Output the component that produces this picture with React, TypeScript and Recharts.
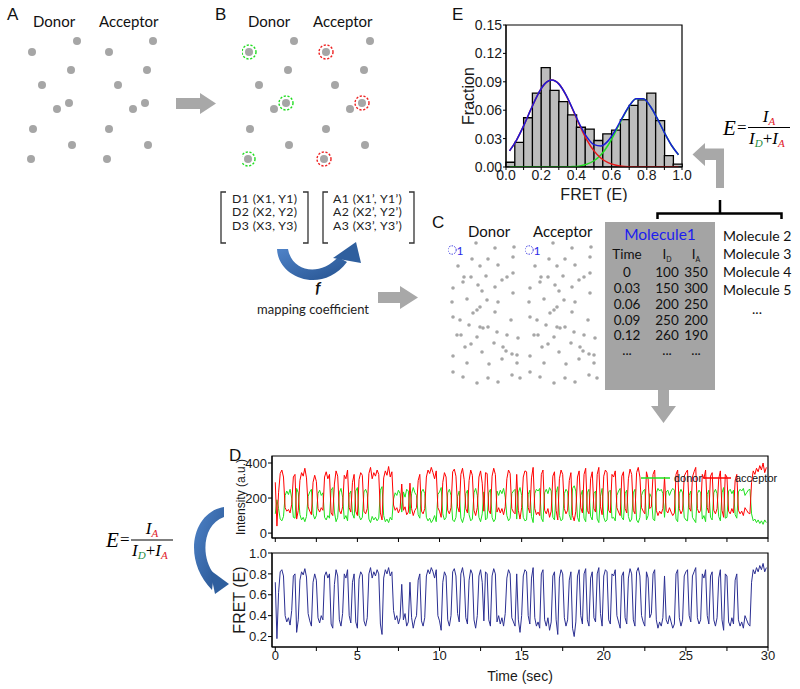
import React from 'react';
import {
  ComposedChart, LineChart, ScatterChart, Bar, Line, Scatter,
  XAxis, YAxis, ReferenceArea, Label,
} from 'recharts';

const AXIS_FONT = '"Liberation Sans", Arial, sans-serif';
const TEXT_FONT = 'Lato, "Open Sans", sans-serif';
const MATH_FONT = '"Liberation Serif", "Times New Roman", serif';
const SPOT = '#a6a6a6';
const ARROW = '#a8a8a8';

// ---- panel E: FRET histogram ----
const binCenters = [0.025, 0.075, 0.125, 0.175, 0.225, 0.275, 0.325, 0.375, 0.425, 0.475,
  0.525, 0.575, 0.625, 0.675, 0.725, 0.775, 0.825, 0.875, 0.925, 0.975];
const fractions = [0.005, 0.026, 0.052, 0.078, 0.105, 0.081, 0.069, 0.055, 0.042, 0.040,
  0.028, 0.035, 0.039, 0.050, 0.065, 0.071, 0.078, 0.049, 0.012, 0.003];
const fitX = [0.02, 0.06, 0.10, 0.14, 0.18, 0.22, 0.26, 0.30, 0.34, 0.38, 0.42, 0.46, 0.50,
  0.54, 0.58, 0.62, 0.66, 0.70, 0.74, 0.78, 0.82, 0.86, 0.90, 0.94, 0.98];
const fitTotal = [0.0170, 0.0285, 0.0434, 0.0603, 0.0763, 0.0878, 0.0920, 0.0878, 0.0764, 0.0607,
  0.0446, 0.0315, 0.0236, 0.0222, 0.0276, 0.0384, 0.0519, 0.0645, 0.0721, 0.0720,
  0.0642, 0.0511, 0.0363, 0.0230, 0.0130];
const fitLow = [0.0170, 0.0285, 0.0434, 0.0603, 0.0763, 0.0878, 0.0920, 0.0878, 0.0763, 0.0603,
  0.0434, 0.0285, 0.0170, 0.0092, 0.0046, 0.0021, 0.0008, 0.0003, 0.0001, 0,
  0, 0, 0, 0, 0];
const fitHigh = [0, 0, 0, 0, 0, 0, 0, 0, 0.0001, 0.0004,
  0.0012, 0.0030, 0.0066, 0.0130, 0.0230, 0.0363, 0.0511, 0.0642, 0.0720, 0.0720,
  0.0642, 0.0511, 0.0363, 0.0230, 0.0130];
const fretTicks = [0, 0.1, 0.2, 0.3, 0.4, 0.5, 0.6, 0.7, 0.8, 0.9, 1.0];
const fractionTicks = [0, 0.03, 0.06, 0.09, 0.12, 0.15];

// ---- panel D: single molecule traces, 0.1 s per frame ----
const TRACE_STEP = 0.1;
const fretTrace = [
  0.72, 0.18, 0.62, 0.82, 0.84, 0.78, 0.40, 0.34, 0.38, 0.31,
  0.45, 0.78, 0.80, 0.24, 0.36, 0.74, 0.82, 0.79, 0.85, 0.77,
  0.42, 0.35, 0.30, 0.72, 0.80, 0.74, 0.38, 0.33, 0.40, 0.36,
  0.78, 0.82, 0.76, 0.80, 0.32, 0.28, 0.70, 0.84, 0.78, 0.36,
  0.30, 0.42, 0.80, 0.76, 0.84, 0.40, 0.33, 0.72, 0.80, 0.34,
  0.28, 0.75, 0.82, 0.79, 0.35, 0.30, 0.38, 0.80, 0.86, 0.76,
  0.82, 0.78, 0.84, 0.80, 0.32, 0.22, 0.76, 0.84, 0.80, 0.86,
  0.78, 0.82, 0.45, 0.36, 0.40, 0.32, 0.38, 0.70, 0.36, 0.42,
  0.30, 0.34, 0.72, 0.38, 0.28, 0.36, 0.40, 0.74, 0.80, 0.35,
  0.30, 0.38, 0.78, 0.84, 0.80, 0.86, 0.82, 0.76, 0.84, 0.40,
  0.35, 0.26, 0.72, 0.82, 0.78, 0.36, 0.30, 0.40, 0.82, 0.85,
  0.78, 0.42, 0.34, 0.80, 0.86, 0.76, 0.38, 0.32, 0.74, 0.84,
  0.80, 0.36, 0.28, 0.40, 0.78, 0.84, 0.72, 0.35, 0.82, 0.80,
  0.36, 0.30, 0.78, 0.85, 0.80, 0.34, 0.40, 0.32, 0.38, 0.30,
  0.42, 0.76, 0.84, 0.80, 0.38, 0.34, 0.30, 0.80, 0.36, 0.24,
  0.40, 0.78, 0.84, 0.82, 0.40, 0.32, 0.76, 0.86, 0.38, 0.30,
  0.34, 0.28, 0.80, 0.84, 0.36, 0.30, 0.38, 0.26, 0.34, 0.78,
  0.82, 0.36, 0.22, 0.76, 0.84, 0.80, 0.38, 0.30, 0.36, 0.74,
  0.82, 0.28, 0.20, 0.34, 0.78, 0.84, 0.40, 0.32, 0.80, 0.85,
  0.36, 0.30, 0.76, 0.82, 0.38, 0.34, 0.80, 0.86, 0.42, 0.30,
  0.78, 0.84, 0.82, 0.36, 0.32, 0.80, 0.78, 0.84, 0.40, 0.34,
  0.28, 0.78, 0.82, 0.38, 0.32, 0.76, 0.85, 0.80, 0.36, 0.30,
  0.82, 0.86, 0.78, 0.40, 0.34, 0.30, 0.82, 0.76, 0.38, 0.42,
  0.80, 0.84, 0.36, 0.28, 0.34, 0.30, 0.38, 0.78, 0.36, 0.32,
  0.40, 0.34, 0.28, 0.32, 0.80, 0.84, 0.38, 0.30, 0.36, 0.78,
  0.82, 0.84, 0.40, 0.34, 0.78, 0.82, 0.86, 0.38, 0.32, 0.36,
  0.80, 0.76, 0.84, 0.40, 0.32, 0.78, 0.82, 0.36, 0.30, 0.38,
  0.76, 0.84, 0.36, 0.26, 0.80, 0.78, 0.34, 0.30, 0.38, 0.32,
  0.74, 0.80, 0.36, 0.30, 0.34, 0.28, 0.40, 0.36, 0.32, 0.30,
  0.72, 0.84, 0.80, 0.86, 0.82, 0.88, 0.84, 0.90, 0.82, 0.86,
];
const donorTrace = [
  110, 190, 140, 80, 70, 95, 215, 240, 220, 250,
  200, 90, 85, 255, 230, 105, 75, 90, 65, 95,
  210, 235, 250, 110, 80, 100, 225, 245, 215, 230,
  90, 75, 100, 85, 245, 260, 120, 65, 90, 230,
  255, 205, 80, 100, 70, 220, 240, 110, 85, 240,
  260, 100, 75, 90, 235, 250, 225, 80, 60, 95,
  75, 90, 70, 85, 245, 265, 100, 65, 80, 60,
  90, 75, 195, 230, 215, 245, 225, 120, 235, 205,
  250, 240, 110, 225, 260, 230, 215, 105, 85, 235,
  250, 225, 90, 70, 85, 60, 75, 100, 65, 220,
  235, 260, 110, 75, 90, 230, 250, 215, 75, 65,
  90, 210, 240, 85, 60, 95, 225, 245, 105, 70,
  80, 230, 255, 215, 90, 65, 110, 235, 75, 85,
  230, 250, 90, 65, 80, 240, 215, 245, 225, 255,
  205, 100, 70, 85, 225, 240, 250, 80, 230, 260,
  215, 90, 70, 75, 220, 245, 95, 60, 225, 250,
  240, 255, 85, 65, 230, 250, 225, 260, 240, 90,
  75, 230, 265, 100, 70, 80, 225, 250, 235, 105,
  75, 255, 270, 240, 90, 65, 215, 245, 85, 65,
  230, 250, 95, 75, 225, 240, 80, 60, 210, 255,
  90, 65, 75, 235, 245, 85, 90, 70, 215, 240,
  255, 90, 75, 225, 245, 95, 65, 80, 230, 250,
  75, 60, 90, 215, 240, 250, 75, 100, 225, 205,
  80, 70, 230, 255, 240, 250, 225, 90, 235, 245,
  215, 240, 255, 245, 80, 65, 225, 250, 230, 90,
  75, 70, 215, 240, 90, 75, 60, 225, 245, 230,
  80, 100, 65, 220, 245, 90, 75, 230, 250, 225,
  95, 70, 230, 260, 85, 90, 240, 250, 225, 245,
  105, 85, 235, 250, 240, 255, 215, 230, 245, 250,
  110, 70, 80, 60, 75, 55, 70, 50, 75, 60,
];
const acceptorTrace = [
  290, 40, 230, 340, 360, 320, 145, 125, 135, 115,
  165, 320, 335, 80, 130, 300, 345, 325, 370, 315,
  150, 125, 105, 290, 330, 295, 140, 120, 145, 130,
  320, 350, 310, 335, 115, 100, 280, 355, 325, 130,
  110, 150, 330, 310, 360, 145, 120, 290, 335, 125,
  100, 305, 345, 330, 125, 110, 140, 340, 375, 310,
  345, 325, 360, 335, 115, 75, 315, 355, 330, 380,
  320, 350, 160, 130, 145, 115, 140, 280, 130, 150,
  105, 120, 285, 140, 100, 130, 145, 300, 335, 125,
  110, 140, 320, 360, 340, 375, 345, 310, 355, 145,
  125, 90, 290, 345, 320, 130, 110, 145, 350, 365,
  325, 150, 120, 335, 370, 305, 140, 115, 300, 360,
  330, 130, 100, 145, 320, 355, 285, 125, 345, 340,
  130, 110, 325, 370, 335, 120, 145, 115, 140, 105,
  150, 310, 360, 340, 140, 120, 110, 335, 130, 80,
  145, 320, 355, 350, 145, 115, 315, 375, 140, 105,
  120, 100, 335, 360, 130, 110, 140, 90, 125, 325,
  350, 130, 75, 310, 360, 335, 140, 110, 130, 300,
  345, 100, 70, 125, 320, 355, 145, 115, 335, 370,
  130, 110, 310, 350, 140, 120, 335, 375, 150, 105,
  325, 360, 345, 130, 115, 335, 320, 355, 145, 120,
  100, 325, 350, 140, 115, 310, 365, 335, 130, 110,
  345, 375, 320, 145, 125, 110, 350, 310, 140, 150,
  335, 360, 130, 100, 125, 110, 140, 320, 130, 115,
  145, 120, 100, 115, 335, 360, 140, 110, 130, 325,
  345, 360, 145, 125, 320, 350, 375, 140, 115, 130,
  335, 310, 360, 145, 115, 325, 345, 130, 110, 140,
  310, 355, 130, 90, 335, 320, 125, 110, 140, 115,
  300, 335, 130, 110, 125, 100, 145, 130, 115, 110,
  290, 355, 335, 370, 350, 385, 360, 400, 345, 375,
];
const timeTicks = [0, 2.5, 5, 7.5, 10, 12.5, 15, 17.5, 20, 22.5, 25, 27.5, 30];

// ---- panels A/B/C: spot positions in the camera field (px) ----
const donorSpots = [[52, 6], [7, 17], [46, 35], [17, 50], [44, 68], [32, 74], [8, 94], [47, 110], [6, 124]];
const acceptorSpots = [[128, 6], [84, 17], [122, 35], [93, 50], [120, 68], [108, 74], [84, 94], [123, 110], [82, 124]];
const pickedSpots = [1, 4, 8];
const denseSpots = [
  [28, 3], [47, 8], [66, 7], [65, 17], [24, 19], [40, 19], [10, 26], [32, 26], [50, 25], [65, 33],
  [16, 37], [23, 37], [38, 36], [54, 40], [59, 37], [15, 42], [5, 48], [30, 45], [47, 47], [34, 51],
  [65, 53], [19, 59], [39, 60], [4, 62], [50, 62], [29, 70], [32, 67], [47, 72], [25, 73], [12, 80],
  [5, 77], [21, 85], [32, 87], [35, 88], [40, 87], [49, 92], [63, 80], [9, 95], [13, 95], [29, 97],
  [59, 95], [70, 98], [17, 107], [23, 104], [46, 103], [55, 107], [58, 111], [64, 114], [34, 112], [5, 116],
  [69, 115], [19, 123], [41, 124], [54, 119], [69, 123], [5, 132], [15, 137], [29, 143], [40, 138], [50, 142],
  [64, 135], [72, 138],
];
const moleculeOne = [[4, 10]];

// ---- panel C: intensity table ----
const tableRows = [
  ['0', '100', '350'], ['0.03', '150', '300'], ['0.06', '200', '250'],
  ['0.09', '250', '200'], ['0.12', '260', '190'], ['...', '...', '...'],
];
const otherMolecules = ['Molecule 2', 'Molecule 3', 'Molecule 4', 'Molecule 5'];
const donorMatrix = ['D1 (X1, Y1)', 'D2 (X2, Y2)', 'D3 (X3, Y3)'];
const acceptorMatrix = ['A1 (X1\u2019, Y1\u2019)', 'A2 (X2\u2019, Y2\u2019)', 'A3 (X3\u2019, Y3\u2019)'];

const tickStyle = (size: number) => ({ fontSize: size, fill: '#1a1a1a', fontFamily: AXIS_FONT });
const titleStyle = (size: number, rotated = false) => ({
  fontSize: size, fill: '#1a1a1a', stroke: 'none', fontFamily: AXIS_FONT,
  ...(rotated ? { textAnchor: 'middle' as const } : {}),
});
const toPoints = (pts: number[][]) => pts.map(([x, y]) => ({ x, y }));

function SpotField({ left, top, width, height, spots, r, picked, ringColor, tag }: any) {
  const dot = (p: any) => <circle cx={p.cx} cy={p.cy} r={r} fill={SPOT} />;
  const ring = (p: any) => (
    <circle cx={p.cx} cy={p.cy} r={7} fill="none" stroke={ringColor} strokeWidth={1.4} strokeDasharray="2.2 1.6" />
  );
  const tagShape = (p: any) => (
    <g>
      <circle cx={p.cx} cy={p.cy} r={4.2} fill="none" stroke="#3030e0" strokeWidth={1} strokeDasharray="1.5 1.2" />
      <text x={p.cx + 4.5} y={p.cy + 4.5} fontSize={12} fill="#2a2ae8" fontFamily={TEXT_FONT}>1</text>
    </g>
  );
  return (
    <div style={{ position: 'absolute', left, top }}>
      <ScatterChart width={width} height={height} margin={{ top: 0, right: 0, bottom: 0, left: 0 }}>
        <XAxis type="number" dataKey="x" domain={[0, width]} hide />
        <YAxis type="number" dataKey="y" domain={[0, height]} reversed hide />
        <Scatter data={toPoints(spots)} shape={dot} isAnimationActive={false} />
        {picked && (
          <Scatter data={toPoints(picked.map((i: number) => spots[i]))} shape={ring} isAnimationActive={false} />
        )}
        {tag && <Scatter data={toPoints(tag)} shape={tagShape} isAnimationActive={false} />}
      </ScatterChart>
    </div>
  );
}

function FretHistogram() {
  const bars = binCenters.map((x, i) => ({ x, fraction: fractions[i] }));
  const fits = fitX.map((x, i) => ({ x, total: fitTotal[i], low: fitLow[i], high: fitHigh[i] }));
  return (
    <div style={{ position: 'absolute', left: 440, top: 10 }}>
      <ComposedChart width={262} height={192} data={bars} barCategoryGap={0} barGap={0}
        margin={{ top: 15, right: 20, bottom: 0, left: 0 }}>
        <XAxis xAxisId="bins" dataKey="x" type="category" hide height={0} padding={{ left: 0, right: 0 }} />
        <XAxis xAxisId="num" dataKey="x" type="number" domain={[0, 1]} ticks={fretTicks} interval={0} allowDataOverflow
          tickFormatter={(v: number) => (Math.round(v * 10) % 2 === 0 ? v.toFixed(1) : '')}
          tickSize={3} tickMargin={0} height={35} stroke="#000" tick={tickStyle(14)}>
          <Label value="FRET (E)" position="insideBottom" offset={2} fill="#1a1a1a" style={titleStyle(16)} />
        </XAxis>
        <YAxis type="number" domain={[0, 0.15]} ticks={fractionTicks} interval={0} allowDataOverflow
          tickFormatter={(v: number) => v.toFixed(2)} width={66} tickSize={3} tickMargin={1}
          stroke="#000" tick={tickStyle(14)} />
        <Bar xAxisId="bins" dataKey="fraction" fill="#bdbdbd" stroke="#000" strokeWidth={1.3} isAnimationActive={false} />
        <Line xAxisId="num" data={fits} dataKey="high" type="monotone" stroke="#22dd22" strokeWidth={1.5} dot={false} isAnimationActive={false} />
        <Line xAxisId="num" data={fits} dataKey="low" type="monotone" stroke="#e81818" strokeWidth={1.5} dot={false} isAnimationActive={false} />
        <Line xAxisId="num" data={fits} dataKey="total" type="monotone" stroke="#1a1ad8" strokeWidth={1.5} dot={false} isAnimationActive={false} />
        <ReferenceArea xAxisId="num" x1={0} x2={1} y1={0} y2={0.15} fill="none" stroke="#000" strokeWidth={1.2} ifOverflow="visible" />
      </ComposedChart>
    </div>
  );
}

function Traces() {
  const traceData = fretTrace.map((fret, i) => ({
    t: +(i * TRACE_STEP).toFixed(1), donor: donorTrace[i], acceptor: acceptorTrace[i], fret,
  }));
  return (
    <>
      <div style={{ position: 'absolute', left: 200, top: 450 }}>
        <LineChart width={582} height={98} data={traceData} margin={{ top: 6, right: 14, bottom: 0, left: 0 }}>
          <XAxis dataKey="t" type="number" domain={[-0.2, 30]} ticks={timeTicks} interval={0} allowDataOverflow
            tickFormatter={() => ''} tickSize={4} height={10} stroke="#000" />
          <YAxis type="number" domain={[-28, 440]} ticks={[0, 200, 400]} interval={0} allowDataOverflow
            width={72} tickSize={4} tickMargin={1} stroke="#000" tick={tickStyle(13)}>
            <Label value="Intensity (a.u.)" angle={-90} position="insideLeft" offset={41} fill="#1a1a1a" style={titleStyle(12, true)} />
          </YAxis>
          <Line dataKey="donor" type="linear" stroke="#1ee01e" strokeWidth={1} dot={false} isAnimationActive={false} />
          <Line dataKey="acceptor" type="linear" stroke="#ff0000" strokeWidth={1} dot={false} isAnimationActive={false} />
          <ReferenceArea x1={-0.2} x2={30} y1={-28} y2={440} fill="none" stroke="#000" strokeWidth={1.2} ifOverflow="visible" />
        </LineChart>
      </div>
      <div style={{ position: 'absolute', left: 200, top: 547 }}>
        <LineChart width={582} height={140} data={traceData} margin={{ top: 6, right: 14, bottom: 0, left: 0 }}>
          <XAxis dataKey="t" type="number" domain={[-0.2, 30]} ticks={timeTicks} interval={0} allowDataOverflow
            tickFormatter={(v: number) => (v % 5 === 0 ? String(v) : '')}
            tickSize={4} tickMargin={0} height={40} stroke="#000" tick={tickStyle(13)}>
            <Label value="Time (sec)" position="insideBottom" offset={6} fill="#1a1a1a" style={titleStyle(14)} />
          </XAxis>
          <YAxis type="number" domain={[0.1, 1.0]} ticks={[0.2, 0.4, 0.6, 0.8, 1.0]} interval={0} allowDataOverflow
            tickFormatter={(v: number) => v.toFixed(1)} width={72} tickSize={4} tickMargin={1}
            stroke="#000" tick={tickStyle(13)}>
            <Label value="FRET (E)" angle={-90} position="insideLeft" offset={39} fill="#1a1a1a" style={titleStyle(16, true)} />
          </YAxis>
          <Line dataKey="fret" type="linear" stroke="#2b2f92" strokeWidth={1} dot={false} isAnimationActive={false} />
          <ReferenceArea x1={-0.2} x2={30} y1={0.1} y2={1.0} fill="none" stroke="#000" strokeWidth={1.2} ifOverflow="visible" />
        </LineChart>
      </div>
    </>
  );
}

function Equation({ x, y }: { x: number; y: number }) {
  // y is the fraction bar
  return (
    <g fontFamily={MATH_FONT}>
      <text x={x} y={y + 7} fontSize={21} fontStyle="italic">E</text>
      <text x={x + 14} y={y + 5} fontSize={17}>=</text>
      <line x1={x + 25} x2={x + 67} y1={y} y2={y} stroke="#000" strokeWidth={1.2} />
      <text x={x + 46} y={y - 6} fontSize={17} fontStyle="italic" textAnchor="middle">
        I<tspan fontSize={11} dy={3} fill="#e0202a">A</tspan>
      </text>
      <text x={x + 26} y={y + 16} fontSize={17} fontStyle="italic">
        I<tspan fontSize={11} dy={3} fill="#1e8c3c">D</tspan>
        <tspan dy={-3} fontStyle="normal">+</tspan>I<tspan fontSize={11} dy={3} fill="#e0202a">A</tspan>
      </text>
    </g>
  );
}

function Annotations() {
  const letter = { fontFamily: AXIS_FONT, fontSize: 17, fill: '#111' };
  const head = { fontFamily: TEXT_FONT, fontSize: 15, fill: '#111' };
  const cell = { fontFamily: TEXT_FONT, fontSize: 13.5, fill: '#111', textAnchor: 'middle' as const };
  const cols = [627, 667, 696];
  const rowY = [277, 293, 309, 324.5, 340, 355];
  return (
    <svg width={800} height={689} style={{ position: 'absolute', left: 0, top: 0, pointerEvents: 'none' }}>
      <defs>
        <linearGradient id="blueArrow" x1="0" y1="0" x2="1" y2="1">
          <stop offset="0" stopColor="#4f83c8" />
          <stop offset="1" stopColor="#25528f" />
        </linearGradient>
      </defs>

      <text x={7} y={20} {...letter}>A</text>
      <text x={215} y={20} {...letter}>B</text>
      <text x={432} y={228} {...letter}>C</text>
      <text x={229} y={461} {...letter}>D</text>
      <text x={452} y={20} {...letter}>E</text>

      {/* histogram y title */}
      <text x={474} y={96} transform="rotate(-90 474 96)" textAnchor="middle"
        fontFamily={AXIS_FONT} fontSize={16} fill="#1a1a1a">Fraction</text>

      <text x={33} y={27} {...head}>Donor</text>
      <text x={99} y={27} {...head}>Acceptor</text>
      <text x={248} y={27} {...head}>Donor</text>
      <text x={313} y={27} {...head}>Acceptor</text>
      <text x={468} y={237} {...head}>Donor</text>
      <text x={533} y={237} {...head}>Acceptor</text>

      {/* A -> B arrow */}
      <polygon points="176,98 200,98 200,93 216,103.5 200,114 200,109 176,109" fill={ARROW} />

      {/* coordinate matrices */}
      {donorMatrix.map((s, i) => (
        <text key={s} x={232} y={202.5 + i * 13.8} fontFamily={TEXT_FONT} fontSize={12.3} letterSpacing={0.35} fill="#222">{s}</text>
      ))}
      {acceptorMatrix.map((s, i) => (
        <text key={s} x={333} y={202.5 + i * 13.8} fontFamily={TEXT_FONT} fontSize={12.3} letterSpacing={0.35} fill="#222">{s}</text>
      ))}
      <g fill="none" stroke="#333" strokeWidth={1.3}>
        <path d="M 226 192 H 221 V 243 H 226" />
        <path d="M 303 192 H 308 V 243 H 303" />
        <path d="M 328 192 H 323 V 243 H 328" />
        <path d="M 409 192 H 414 V 243 H 409" />
      </g>
      <path d="M 277 249 C 278 278, 322 295, 347 262 L 338 257 C 320 277, 292 272, 288 249 Z" fill="url(#blueArrow)" />
      <polygon points="333,258 361,263 356,242" fill="#2f5f9e" />
      <text x={318} y={293} textAnchor="middle" fontFamily={TEXT_FONT} fontSize={16} fontWeight="bold" fontStyle="italic" fill="#111">f</text>
      <text x={313} y={314} textAnchor="middle" fontFamily={TEXT_FONT} fontSize={13} fill="#222">mapping coefficient</text>

      {/* B -> C arrow */}
      <polygon points="378,292 400,292 400,286 418,297.5 400,309 400,303 378,303" fill={ARROW} />

      {/* molecule table */}
      <rect x={605} y={222} width={110} height={168} fill="#a4a4a4" />
      <text x={660} y={240} textAnchor="middle" fontFamily={TEXT_FONT} fontSize={15.5} fill="#1c1cf0">Molecule1</text>
      <text x={cols[0]} y={259} {...cell}>Time</text>
      <text x={cols[1]} y={259} {...cell}>I<tspan fontSize={7} dy={3}>D</tspan></text>
      <text x={cols[2]} y={259} {...cell}>I<tspan fontSize={7} dy={3}>A</tspan></text>
      {tableRows.map((row, r) => row.map((v, c) => (
        <text key={`${r}-${c}`} x={cols[c]} y={rowY[r]} {...cell}>{v}</text>
      )))}
      {otherMolecules.map((m, i) => (
        <text key={m} x={723} y={241 + i * 18} fontFamily={TEXT_FONT} fontSize={14} fill="#111">{m}</text>
      ))}
      <text x={757} y={314} textAnchor="middle" fontFamily={TEXT_FONT} fontSize={14} fill="#111">...</text>

      {/* bracket and arrow back to histogram */}
      <path d="M 657.5 219 V 213.5 H 781.5 V 219 M 720 213.5 V 200" fill="none" stroke="#000" strokeWidth={2.5} />
      <polygon points="724,188 716,188 716,160 705,160 705,166 692.5,154.5 705,143 705,148.5 724,148.5" fill={ARROW} />
      <Equation x={723} y={127.5} />

      {/* table -> traces arrow */}
      <polygon points="658,390 669,390 669,406 676,406 663.5,423 651,406 658,406" fill={ARROW} />

      {/* left equation and curved arrow */}
      <Equation x={106} y={540} />
      <path d="M 224 507 C 192 512, 182 560, 212 590 L 214 574 C 200 556, 203 524, 224 517 Z" fill="url(#blueArrow)" />
      <polygon points="210,570 215,594 229,584" fill="#2f5f9e" />

      {/* trace legend */}
      <line x1={641} x2={670} y1={478} y2={478} stroke="#1ee01e" strokeWidth={1.5} />
      <text x={674} y={482} fontFamily={AXIS_FONT} fontSize={11} fill="#111">donor</text>
      <line x1={704} x2={731} y1={478} y2={478} stroke="#ff0000" strokeWidth={1.5} />
      <text x={735} y={482} fontFamily={AXIS_FONT} fontSize={11} fill="#111">acceptor</text>
    </svg>
  );
}

export default function App() {
  return (
    <div style={{ position: 'absolute', left: 0, top: 0, width: 800, height: 689, background: '#fff', overflow: 'hidden' }}>
      <SpotField left={25} top={35} width={140} height={135} spots={donorSpots} r={4} />
      <SpotField left={25} top={35} width={140} height={135} spots={acceptorSpots} r={4} />
      <SpotField left={242} top={35} width={140} height={135} spots={donorSpots} r={4} picked={pickedSpots} ringColor="#22dd22" />
      <SpotField left={242} top={35} width={140} height={135} spots={acceptorSpots} r={4} picked={pickedSpots} ringColor="#ee2222" />
      <SpotField left={448} top={240} width={76} height={147} spots={denseSpots} r={1.8} tag={moleculeOne} />
      <SpotField left={525} top={240} width={76} height={147} spots={denseSpots} r={1.8} tag={moleculeOne} />
      <FretHistogram />
      <Traces />
      <Annotations />
    </div>
  );
}
